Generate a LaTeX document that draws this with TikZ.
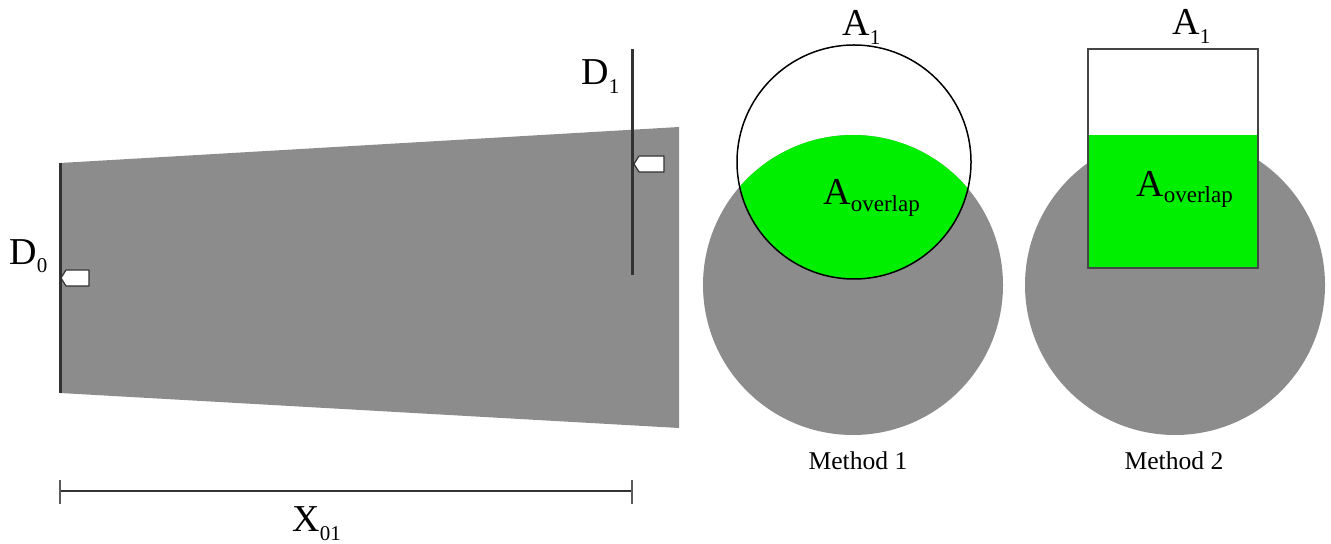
\documentclass[tikz,border=0pt]{standalone}
\usepackage{fontspec}
\setmainfont{Liberation Serif}
\usepackage{tikz}
\usetikzlibrary{positioning,calc}

\definecolor{plume}{RGB}{140,140,140}
\definecolor{overlap}{RGB}{0,238,0}
\definecolor{stem}{RGB}{50,50,50}
\newcommand\lbl[3][-4.5pt]{#2\raisebox{#1}{\fontsize{10.5}{12}\selectfont #3}}
\newcommand\ovl[1]{A\raisebox{#1}{\fontsize{11.5}{13}\selectfont overlap}}

\begin{document}
\begin{tikzpicture}[x=0.5pt, y=-0.5pt,
  font=\fontsize{19}{22}\selectfont,
  pole/.style={stem, line width=1.5pt},
  probe/.style={draw=stem, fill=white, line width=0.6pt, line join=round},
  tag/.style={anchor=base west, inner sep=0pt},
  caption/.style={anchor=base, inner sep=0pt, font=\fontsize{12.8}{15}\selectfont}]
\useasboundingbox (0,0) rectangle (1331,544);
% spreading cone between the two stations
\fill[plume] (60,163) -- (679,127) -- (679,428) -- (60,393) -- cycle;
\draw[pole] (60,163) -- (60,393);
\draw[pole] (632,49) -- (632,275);
\draw[probe] (61,278) -- (66,270) -- (89,270) -- (89,286) -- (66,286) -- cycle;
\draw[probe] (634,164) -- (639,156) -- (664,156) -- (664,172) -- (639,172) -- cycle;
\node[tag] (dzero) at (9,265) {\lbl[-4pt]{D}{0}};
\node[tag] (done) at (581,85) {\lbl{D}{1}};
% distance bar
\coordinate (xa) at (60,491);
\coordinate (xb) at (632,491);
\draw[line width=1.2pt, stem] (xa) -- (xb);
\draw[line width=1.2pt, stem!80] ($(xa)+(0,-11)$) -- ($(xa)+(0,13)$);
\draw[line width=1.2pt, stem!80] ($(xb)+(0,-11)$) -- ($(xb)+(0,13)$);
\node[tag] (xlen) at (292,531) {\lbl[-4.5pt]{X}{01}};
% method 1: circle against circle
\fill[plume] (853,285) circle (75pt);
\begin{scope}
  \clip (853,285) circle (75pt);
  \fill[overlap] (854,162) circle (58.5pt);
\end{scope}
\draw[black, line width=0.75pt] (854,162) circle (58.5pt);
\node[tag] (aone) at (842,36) {\lbl{A}{1}};
\node[tag] (aovl) at (823,205) {\ovl{-3.5pt}};
\node[caption] (mone) at (858,469) {Method 1};
% method 2: box against circle
\fill[plume] (1175,285) circle (75pt);
\fill[overlap] (1088,135) rectangle (1258,268);
\draw[stem!90, line width=1.1pt] (1088,49) rectangle (1258,268);
\node[tag] (atwo) at (1172,35) {\lbl{A}{1}};
\node[tag] (aovltwo) at (1136,197) {\ovl{-3pt}};
\node[caption] (mtwo) at (1174,469) {Method 2};
\end{tikzpicture}
\end{document}
